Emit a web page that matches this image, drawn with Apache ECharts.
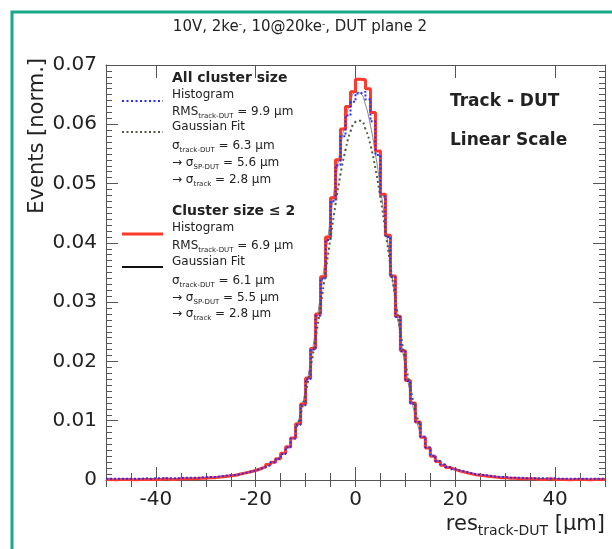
<!DOCTYPE html>
<html><head><meta charset="utf-8">
<script src="https://cdn.jsdelivr.net/npm/echarts@6/dist/echarts.min.js"></script>
<style>html,body{margin:0;padding:0;background:#fff}#c{width:612px;height:549px}</style>
</head><body><div id="c"></div>
<script>
// ---- data ----
const binStart = -50, binWidth = 1;          // histogram bins: [-50,50] in 1 um bins
// Cluster size <= 2 histogram (normalised), bins -50..49
const histClusterLe2 = [
 0.0001,0.0000,0.0001,0.0001,0.0001,0.0000,0.0001,0.0001,0.0001,0.0001,
 0.0001,0.0002,0.0001,0.0001,0.0002,0.0002,0.0002,0.0002,0.0003,0.0003,
 0.0004,0.0004,0.0005,0.0006,0.0007,0.0008,0.0010,0.0012,0.0014,0.0016,
 0.0019,0.0022,0.0026,0.0030,0.0036,0.0045,0.0056,0.0071,0.0095,0.0128,
 0.0172,0.0222,0.0280,0.0343,0.0410,0.0476,0.0540,0.0592,0.0630,0.0655,
 0.0676,0.0675,0.0660,0.0620,0.0555,0.0482,0.0413,0.0344,0.0276,0.0218,
 0.0168,0.0130,0.0098,0.0072,0.0054,0.0040,0.0031,0.0025,0.0021,0.0018,
 0.0015,0.0013,0.0011,0.0009,0.0008,0.0007,0.0006,0.0005,0.0004,0.0004,
 0.0003,0.0003,0.0002,0.0002,0.0002,0.0002,0.0001,0.0001,0.0002,0.0001,
 0.0001,0.0001,0.0000,0.0001,0.0001,0.0001,0.0000,0.0001,0.0001,0.0001
];
// All cluster sizes histogram (normalised), bins -50..49
const histAllClusters = [
 0.0002,0.0002,0.0002,0.0002,0.0002,0.0002,0.0002,0.0003,0.0002,0.0003,
 0.0003,0.0003,0.0003,0.0003,0.0003,0.0004,0.0004,0.0004,0.0004,0.0005,
 0.0005,0.0005,0.0006,0.0007,0.0008,0.0009,0.0010,0.0012,0.0014,0.0016,
 0.0019,0.0022,0.0025,0.0030,0.0036,0.0044,0.0055,0.0070,0.0093,0.0126,
 0.0170,0.0220,0.0277,0.0340,0.0405,0.0470,0.0531,0.0580,0.0615,0.0638,
 0.0652,0.0655,0.0642,0.0605,0.0548,0.0478,0.0410,0.0342,0.0275,0.0217,
 0.0167,0.0129,0.0098,0.0073,0.0055,0.0041,0.0032,0.0026,0.0022,0.0018,
 0.0016,0.0014,0.0012,0.0010,0.0009,0.0008,0.0007,0.0006,0.0005,0.0005,
 0.0004,0.0004,0.0004,0.0003,0.0003,0.0003,0.0003,0.0003,0.0002,0.0003,
 0.0002,0.0002,0.0002,0.0002,0.0002,0.0002,0.0002,0.0002,0.0002,0.0002
];
const fitStart = -12;                         // fit curves sampled at x = -12..13 (fit range)
const fitAllClusters = [
 0.0082,0.0111,0.0147,0.0190,0.0239,0.0293,0.0351,0.0409,0.0465,0.0516,
 0.0557,0.0588,0.0604,0.0606,0.0592,0.0565,0.0525,0.0476,0.0420,0.0362,
 0.0305,0.0250,0.0199,0.0155,0.0118,0.0087
];
const fitClusterLe2 = [
 0.0083,0.0114,0.0153,0.0200,0.0254,0.0314,0.0378,0.0443,0.0505,0.0561,
 0.0606,0.0638,0.0654,0.0652,0.0633,0.0598,0.0550,0.0493,0.0430,0.0365,
 0.0301,0.0242,0.0190,0.0145,0.0107,0.0078
];
const xMajorTicks = [-40,-20,0,20,40];
const xMinorTicks = [-50,-45,-40,-35,-30,-25,-20,-15,-10,-5,0,5,10,15,20,25,30,35,40,45,50];

// ---- build ----
function histData(vals){
  const d = [];
  for (let i = 0; i < vals.length; i++) d.push([binStart + i*binWidth, vals[i]]);
  d.push([binStart + vals.length*binWidth, vals[vals.length-1]]);
  return d;
}
function fitData(vals){ return vals.map((v,i)=>[fitStart + i, v]); }

const FONT = 'DejaVu Sans';
const TXT = '#222';
const AX = '#555';

function rt(x, y, text, size, subSize, subPad, opts){
  opts = opts || {};
  return {
    type:'text', x:x, y:y, silent:true, z:100,
    style:{
      text:text, fill:TXT, fontFamily:FONT, fontSize:size,
      fontWeight: opts.bold ? 'bold' : 'normal',
      align: opts.align || 'left', textAlign: opts.align || 'left',
      verticalAlign:'middle', textVerticalAlign:'middle',
      rich:{
        n:{fontSize:size, fontFamily:FONT, fill:TXT, fontWeight: opts.bold?'bold':'normal', verticalAlign:'top', lineHeight:size+subPad+4},
        s:{fontSize:subSize, fontFamily:FONT, fill:TXT, verticalAlign:'top', padding:[subPad,0,0,0], lineHeight:size+subPad+4},
        p:{fontSize:subSize, fontFamily:FONT, fill:TXT, verticalAlign:'top', padding:[0,0,0,0], lineHeight:size+subPad+4}
      }
    }
  };
}

function legLine(y, color, width, dotted){
  return {type:'line', silent:true, z:100,
    shape:{x1:122, y1:y, x2:163, y2:y},
    style:{stroke:color, lineWidth:width, lineDash: dotted ? [2,2.5] : null}};
}

const chart = echarts.init(document.getElementById('c'), null, {renderer:'canvas'});

const tickStyle = {color:AX, width:1};
const option = {
  animation:false,
  backgroundColor:'#fff',
  grid:{left:106, right:7, top:65, bottom:69, containLabel:false, show:false},
  xAxis:[
    {type:'value', min:-50, max:50, position:'bottom',
     axisLine:{show:true, onZero:false, lineStyle:{color:AX, width:1.2}},
     axisTick:{show:true, inside:true, length:13, customValues:xMajorTicks, lineStyle:tickStyle},
     axisLabel:{show:true, customValues:xMajorTicks, fontFamily:FONT, fontSize:20, color:TXT, margin:10},
     splitLine:{show:false}},
    {type:'value', min:-50, max:50, position:'bottom',
     axisLine:{show:false}, axisTick:{show:true, inside:true, length:7, customValues:xMinorTicks, lineStyle:tickStyle},
     axisLabel:{show:false}, splitLine:{show:false}},
    {type:'value', min:-50, max:50, position:'top',
     axisLine:{show:true, onZero:false, lineStyle:{color:AX, width:1}},
     axisTick:{show:true, inside:true, length:13, customValues:xMajorTicks, lineStyle:tickStyle},
     axisLabel:{show:false}, splitLine:{show:false}},
    {type:'value', min:-50, max:50, position:'top',
     axisLine:{show:false}, axisTick:{show:true, inside:true, length:7, customValues:xMinorTicks, lineStyle:tickStyle},
     axisLabel:{show:false}, splitLine:{show:false}}
  ],
  yAxis:[
    {type:'value', min:0, max:0.07, interval:0.01, position:'left',
     axisLine:{show:true, onZero:false, lineStyle:{color:AX, width:1}},
     axisTick:{show:true, inside:true, length:12, lineStyle:tickStyle},
     minorTick:{show:true, splitNumber:10, length:6, lineStyle:tickStyle},
     axisLabel:{fontFamily:FONT, fontSize:20, color:TXT, margin:9,
       formatter:v => Math.abs(v) < 1e-9 ? '0' : v.toFixed(2)},
     splitLine:{show:false}, minorSplitLine:{show:false}},
    {type:'value', min:0, max:0.07, interval:0.01, position:'right',
     axisLine:{show:true, onZero:false, lineStyle:{color:AX, width:1}},
     axisTick:{show:true, inside:true, length:12, lineStyle:tickStyle},
     minorTick:{show:true, splitNumber:10, length:6, lineStyle:tickStyle},
     axisLabel:{show:false}, splitLine:{show:false}, minorSplitLine:{show:false}}
  ],
  series:[
    {name:'Cluster size <= 2 fit', type:'line', xAxisIndex:0, yAxisIndex:0,
     smooth:true, symbol:'none', data:fitData(fitClusterLe2), z:1,
     lineStyle:{color:'#222', width:1, opacity:0.55}},
    {name:'Cluster size <= 2 histogram', type:'line', xAxisIndex:0, yAxisIndex:0,
     step:'end', symbol:'none', data:histData(histClusterLe2), z:2,
     lineStyle:{color:'#ff3a2a', width:3}},
    {name:'All cluster histogram', type:'line', xAxisIndex:0, yAxisIndex:0,
     step:'end', symbol:'none', data:histData(histAllClusters), z:4,
     lineStyle:{color:'#2a2aff', width:2, type:[2,2]}},
    {name:'All cluster fit', type:'line', xAxisIndex:0, yAxisIndex:0,
     smooth:true, symbol:'none', data:fitData(fitAllClusters), z:5,
     lineStyle:{color:'#4c5a44', width:2, type:[2,3]}}
  ],
  graphic:[
    {type:'rect', silent:true, z:200, shape:{x:12, y:12, width:700, height:700},
     style:{fill:'none', stroke:'#18a98b', lineWidth:3}},
    // title
    rt(300, 31, '{n|10V, 2ke}{p|-}{n|, 10@20ke}{p|-}{n|, DUT plane 2}', 15, 9, 3, {align:'center'}),
    // axis titles
    {type:'text', x:38, y:58, rotation:Math.PI/2, silent:true, z:100,
     style:{text:'Events [norm.]', fill:TXT, fontFamily:FONT, fontSize:21,
       align:'right', textAlign:'right', verticalAlign:'middle', textVerticalAlign:'middle'}},
    rt(605, 532, '{n|res}{s|track-DUT}{n| [µm]}', 21, 14, 10, {align:'right'}),
    // right side labels
    rt(450, 106, '{n|Track - DUT}', 17, 10, 5, {bold:true}),
    rt(450, 145, '{n|Linear Scale}', 17, 10, 5, {bold:true}),
    // legend block 1
    rt(172, 83, '{n|All cluster size}', 14, 9, 5, {bold:true}),
    legLine(101, '#2a2aff', 2, true),
    rt(172, 100, '{n|Histogram}', 12, 7, 7),
    rt(172, 117, '{n|RMS}{s|track-DUT}{n| = 9.9 µm}', 12, 7, 7),
    legLine(132, '#4c5a44', 2, true),
    rt(172, 132, '{n|Gaussian Fit}', 12, 7, 7),
    rt(172, 151, '{n|σ}{s|track-DUT}{n| = 6.3 µm}', 12, 7, 7),
    rt(172, 168, '{n|→ σ}{s|SP-DUT}{n| = 5.6 µm}', 12, 7, 7),
    rt(172, 185, '{n|→ σ}{s|track}{n| = 2.8 µm}', 12, 7, 7),
    // legend block 2
    rt(172, 216, '{n|Cluster size ≤ 2}', 14, 9, 5, {bold:true}),
    legLine(234, '#ff3a2a', 3, false),
    rt(172, 233, '{n|Histogram}', 12, 7, 7),
    rt(172, 251, '{n|RMS}{s|track-DUT}{n| = 6.9 µm}', 12, 7, 7),
    legLine(267, '#111', 2, false),
    rt(172, 267, '{n|Gaussian Fit}', 12, 7, 7),
    rt(172, 286, '{n|σ}{s|track-DUT}{n| = 6.1 µm}', 12, 7, 7),
    rt(172, 303, '{n|→ σ}{s|SP-DUT}{n| = 5.5 µm}', 12, 7, 7),
    rt(172, 319, '{n|→ σ}{s|track}{n| = 2.8 µm}', 12, 7, 7)
  ]
};
chart.setOption(option);
</script>
</body></html>
